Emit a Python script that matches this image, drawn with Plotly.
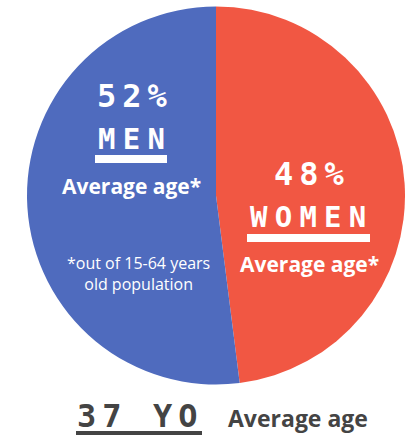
import plotly.graph_objects as go

W, H = 405, 435

labels = ["WOMEN", "MEN"]
shares = [48, 52]
colors = ["#F15743", "#4F6BBE"]
avg_age_total = 37
footnote = "*out of 15-64 years<br>old population"

MONO = "DejaVu Sans Mono"
SANS = "Open Sans"


def spaced(text, gap_px):
    sp = '<span style="font-size:%dpx"> </span>' % gap_px
    return sp.join(list(text))


def px(x, y):
    return x / W, 1 - y / H


fig = go.Figure(go.Pie(
    labels=labels, values=shares, sort=False, direction="clockwise", rotation=0,
    marker=dict(colors=colors, line=dict(width=0)),
    textinfo="none", hoverinfo="none", showlegend=False,
    domain=dict(x=[27 / W, 1.0], y=[1 - 386 / H, 1 - 5 / H]),
))

ann = []


def add(text, x, y, size, color="white", family=SANS, weight="bold"):
    ax, ay = px(x, y)
    ann.append(dict(text=text, x=ax, y=ay, xref="paper", yref="paper", showarrow=False,
                    xanchor="center", yanchor="middle",
                    font=dict(size=size, color=color, family=family, weight=weight)))


# Men (left, blue)
add(spaced("%d%%" % shares[1], 10), 132, 96, 32, family=MONO)
add(spaced(labels[1], 12), 131, 139, 29, family=MONO)
add("Average age*", 131, 186, 21)
add(footnote, 138, 273, 16, weight="normal")

# Women (right, red)
add(spaced("%d%%" % shares[0], 10), 309, 174, 32, family=MONO)
add(spaced(labels[0], 12), 308, 217, 29, family=MONO)
add("Average age*", 309, 264, 21)

# Bottom total
add(spaced("%d YO" % avg_age_total, 10), 137, 416, 32, color="#444444", family=MONO)
add("Average age", 298, 418, 23, color="#444444")

shapes = []
for (x0, x1, y0, y1, c) in [(95, 167, 155, 163, "white"), (247, 370, 234, 242, "white"),
                            (76, 202, 431, 435, "#444444")]:
    shapes.append(dict(type="rect", xref="paper", yref="paper", x0=x0 / W, x1=x1 / W,
                       y0=1 - y1 / H, y1=1 - y0 / H, fillcolor=c, line=dict(width=0)))

fig.update_layout(width=W, height=H, margin=dict(l=0, r=0, t=0, b=0),
                  paper_bgcolor="white", plot_bgcolor="white",
                  annotations=ann, shapes=shapes)
fig.write_html("out.html", config={"displayModeBar": False},
               post_script="document.body.style.margin='0';")
